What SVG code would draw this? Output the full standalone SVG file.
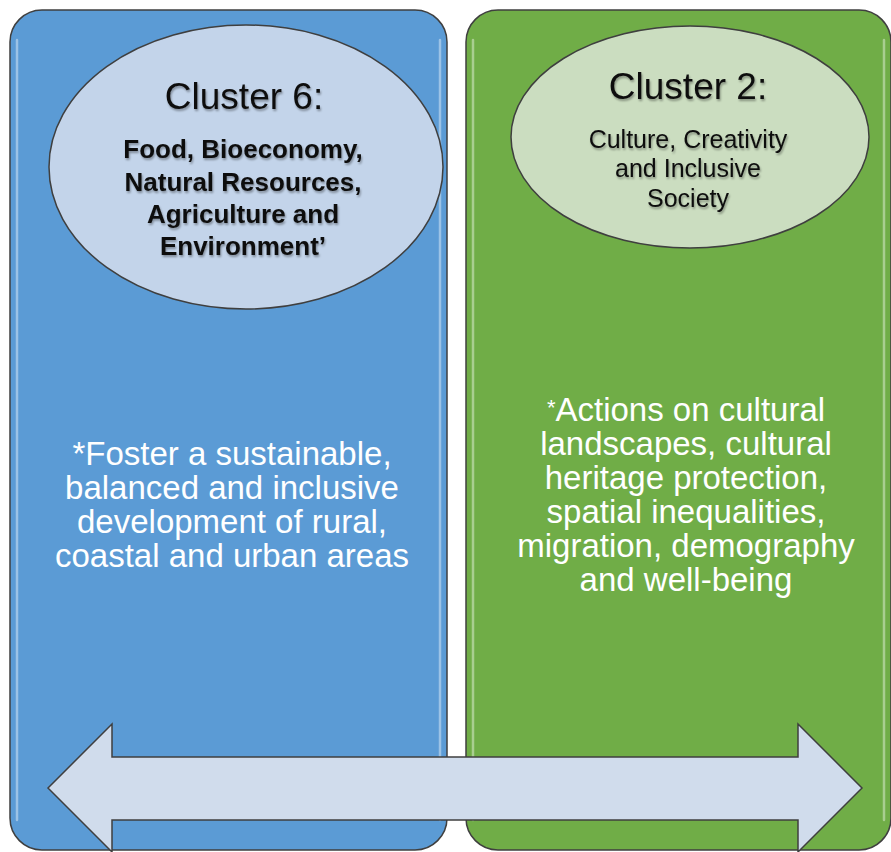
<svg xmlns="http://www.w3.org/2000/svg" width="891" height="852" viewBox="0 0 891 852">
<defs>
<filter id="ts" x="-10%" y="-10%" width="120%" height="130%">
<feGaussianBlur in="SourceAlpha" stdDeviation="1"/>
<feOffset dx="1" dy="1.5" result="b"/>
<feComponentTransfer><feFuncA type="linear" slope="0.35"/></feComponentTransfer>
<feMerge><feMergeNode/><feMergeNode in="SourceGraphic"/></feMerge>
</filter>
</defs>
<style>
.box{stroke:#3f3f3f;stroke-width:1.5}
.blue{fill:#5B9BD5}
.green{fill:#70AD47}
.hl{fill:none;stroke:#ffffff;stroke-opacity:0.4;stroke-width:2.5;stroke-linecap:round}
.ell{stroke:#3f3f3f;stroke-width:1.5}
.t{font-family:"Liberation Sans",Arial,sans-serif;text-anchor:middle}
.title{font-size:37px;fill:#111}
.sub{font-size:25px;fill:#111}
.bold{font-size:26px;font-weight:bold;fill:#111}
.body{font-size:33px;fill:#fff}
.arrow{fill:#D0DCEC;stroke:#3f3f3f;stroke-width:1.5}
</style>
<g id="cluster6">
<rect class="box blue" x="10" y="10" width="437" height="840" rx="32"/>
<path class="hl" d="M17 40 V820 M440 40 V820"/>
<ellipse class="ell" cx="246" cy="167" rx="197" ry="142" fill="#C3D4EA"/>
<g filter="url(#ts)">
<text class="t title" x="244" y="109">Cluster 6:</text>
<text class="t bold" x="243" y="158">Food, Bioeconomy,</text>
<text class="t bold" x="243" y="191">Natural Resources,</text>
<text class="t bold" x="243" y="223">Agriculture and</text>
<text class="t bold" x="243" y="255">Environment’</text>
</g>
<text class="t body" x="232" y="465">*Foster a sustainable,</text>
<text class="t body" x="232" y="499">balanced and inclusive</text>
<text class="t body" x="232" y="533">development of rural,</text>
<text class="t body" x="232" y="567">coastal and urban areas</text>
</g>
<g id="cluster2">
<rect class="box green" x="466" y="10" width="425" height="840" rx="32"/>
<path class="hl" d="M473 40 V820 M884 40 V820"/>
<ellipse class="ell" cx="690" cy="137" rx="179" ry="111" fill="#CBDDC0"/>
<g filter="url(#ts)">
<text class="t title" x="688" y="99">Cluster 2:</text>
<text class="t sub" x="688" y="148">Culture, Creativity</text>
<text class="t sub" x="688" y="177">and Inclusive</text>
<text class="t sub" x="688" y="207">Society</text>
</g>
<text class="t body" x="686" y="421"><tspan font-size="22px" baseline-shift="6px">*</tspan>Actions on cultural</text>
<text class="t body" x="686" y="455">landscapes, cultural</text>
<text class="t body" x="686" y="489">heritage protection,</text>
<text class="t body" x="686" y="523">spatial inequalities,</text>
<text class="t body" x="686" y="557">migration, demography</text>
<text class="t body" x="686" y="591">and well-being</text>
</g>
<g id="connectors">
<polygon class="arrow" points="48,788 112,724 112,757 798,757 798,724 862,788 798,852 798,820 112,820 112,852"/>
</g>
</svg>
